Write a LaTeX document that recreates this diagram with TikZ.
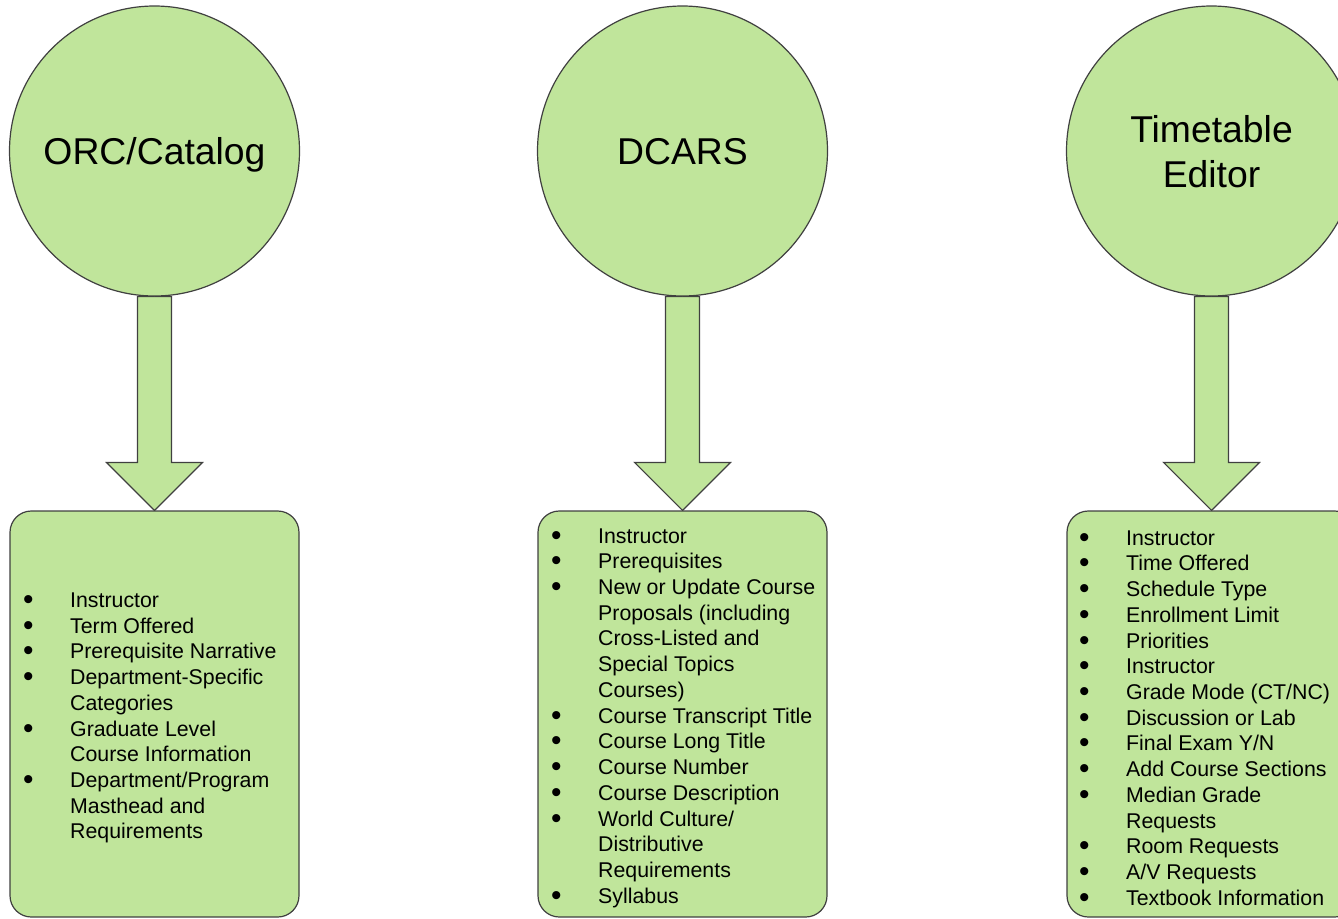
\documentclass[tikz,border=0pt]{standalone}
\usepackage{fontspec}
\setmainfont{Liberation Sans}
\usepackage{graphicx}
\usepackage{tikz}
\usetikzlibrary{calc}
\usetikzlibrary{backgrounds}
\definecolor{leaf}{RGB}{192,229,155}
\definecolor{rim}{RGB}{64,64,64}
\tikzstyle{source}=[draw=rim,fill=leaf,line width=0.9pt,circle,inner sep=0pt,minimum size=217.5pt,align=center,text depth=0pt,font=\fontsize{28}{33.75}\selectfont]
\tikzstyle{panel}=[draw=rim,fill=leaf,line width=0.9pt,rectangle,rounded corners=16pt,minimum width=216.75pt,minimum height=304.5pt]
\tikzstyle{fields}=[inner sep=0pt,align=left,anchor=west,font=\fontsize{16}{19.3}\selectfont]
\tikzstyle{flow}=[draw=rim,fill=leaf,line width=0.9pt,line join=miter]
\newcommand{\itm}{\makebox[35.25pt][l]{\smash{\raisebox{-1.5pt}{\scalebox{1.4}{•}}}}}
\newcommand{\cnt}{\makebox[35.25pt]{}}

\begin{document}
\begin{tikzpicture}[x=0.75pt,y=-0.75pt]
      \useasboundingbox (0,0) rectangle (1338,918);

      \node[source] (orc) at (154.5,151) {ORC/Catalog};
      \node[source] (dcars) at (682.5,151) {DCARS};
      \node[source] (tt) at (1211.5,151) {Timetable\\Editor};

      \node[panel] (orcBox) at (154.5,714) {};
      \node[panel] (dcarsBox) at (682.5,714) {};
      \node[panel] (ttBox) at (1211.5,714) {};

      \node[fields] (orcList) at ($(orcBox.west)+(13.5,4)$) {%
        \itm Instructor\\
        \itm Term Offered\\
        \itm Prerequisite Narrative\\
        \itm Department-Specific\\
        \cnt Categories\\
        \itm Graduate Level\\
        \cnt Course Information\\
        \itm Department/Program\\
        \cnt Masthead and\\
        \cnt Requirements};
      \node[fields] (dcarsList) at ($(dcarsBox.west)+(13.5,4)$) {%
        \itm Instructor\\
        \itm Prerequisites\\
        \itm New or Update Course\\
        \cnt Proposals (including\\
        \cnt Cross-Listed and\\
        \cnt Special Topics\\
        \cnt Courses)\\
        \itm Course Transcript Title\\
        \itm Course Long Title\\
        \itm Course Number\\
        \itm Course Description\\
        \itm World Culture/\\
        \cnt Distributive\\
        \cnt Requirements\\
        \itm Syllabus};
      \node[fields] (ttList) at ($(ttBox.west)+(12.5,4)$) {%
        \itm Instructor\\
        \itm Time Offered\\
        \itm Schedule Type\\
        \itm Enrollment Limit\\
        \itm Priorities\\
        \itm Instructor\\
        \itm Grade Mode (CT/NC)\\
        \itm Discussion or Lab\\
        \itm Final Exam Y/N\\
        \itm Add Course Sections\\
        \itm Median Grade\\
        \cnt Requests\\
        \itm Room Requests\\
        \itm A/V Requests\\
        \itm Textbook Information};

      % block arrows, behind the shapes
      \begin{scope}[on background layer]
        \foreach \s/\b in {orc/orcBox,dcars/dcarsBox,tt/ttBox}{
          \draw[flow] ($(\s.south)+(-17,0)$) -- ($(\s.south)+(17,0)$)
            -- ($(\b.north)+(17,-48)$) -- ($(\b.north)+(48,-48)$)
            -- (\b.north) -- ($(\b.north)+(-48,-48)$)
            -- ($(\b.north)+(-17,-48)$) -- cycle;
        }
      \end{scope}
\end{tikzpicture}
\end{document}
